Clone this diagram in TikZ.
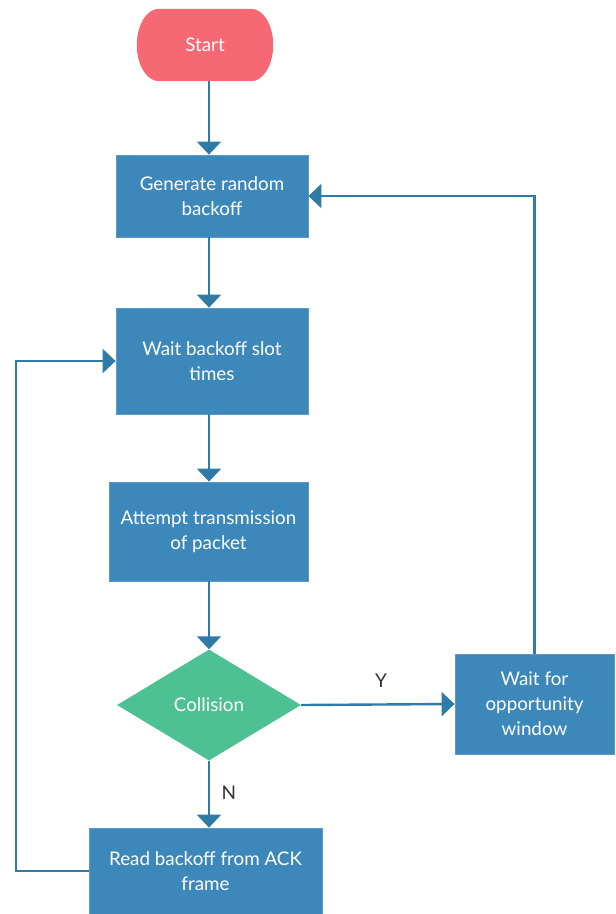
\documentclass[tikz,border=0pt]{standalone}
\usepackage{fontspec}
\setmainfont{Lato}
\usetikzlibrary{arrows.meta,shapes.geometric,backgrounds}
\definecolor{boxblue}{RGB}{61,136,186}
\definecolor{lineblue}{RGB}{47,123,168}
\definecolor{startred}{RGB}{245,104,116}
\definecolor{diagreen}{RGB}{77,193,148}
\definecolor{labelgray}{RGB}{51,51,51}
\tikzset{
  procbox/.style={rectangle, fill=boxblue, draw=boxblue!85!white, line width=0.8pt, text=white,
    align=center, inner sep=0pt, font=\fontsize{18.8pt}{25pt}\selectfont},
  starttext/.style={rectangle, text=white, inner sep=0pt,
    font=\fontsize{18.8pt}{25pt}\selectfont},
  decbox/.style={diamond, aspect=1.66, fill=diagreen, text=white, inner sep=0pt,
    font=\fontsize{18.8pt}{25pt}\selectfont},
  arr/.style={draw=lineblue, line width=2.4pt, -{Triangle[width=24pt,length=13pt]}},
  lbl/.style={text=labelgray, font=\fontsize{19pt}{22pt}\selectfont}
}
\begin{document}
\begin{tikzpicture}[x=1pt,y=-1pt]
\useasboundingbox (0,0) rectangle (616,914);
\node[starttext, minimum width=136pt, minimum height=72pt] (start) at (205,45) {Start};
\begin{pgfonlayer}{background}
\fill[startred] ([xshift=22pt]start.north west) -- ([xshift=-22pt]start.north east)
 .. controls ([xshift=-9.9pt]start.north east) and ([yshift=19.9pt]start.east) .. (start.east)
 .. controls ([yshift=-19.9pt]start.east) and ([xshift=-9.9pt]start.south east) .. ([xshift=-22pt]start.south east)
 -- ([xshift=22pt]start.south west)
 .. controls ([xshift=9.9pt]start.south west) and ([yshift=-19.9pt]start.west) .. (start.west)
 .. controls ([yshift=19.9pt]start.west) and ([xshift=9.9pt]start.north west) .. ([xshift=22pt]start.north west) -- cycle;
\end{pgfonlayer}
\node[procbox, minimum width=192pt, minimum height=82pt] (gen) at (212,196) {Generate random\\backoff};
\node[procbox, minimum width=192pt, minimum height=106pt] (wait) at (212,361) {Wait backoff slot\\times};
\node[procbox, minimum width=199pt, minimum height=99pt] (att) at (208.5,531.5) {Attempt transmission\\of packet};
\node[decbox, minimum width=184pt, minimum height=111pt] (col) at (209,705) {Collision};
\node[procbox, minimum width=159pt, minimum height=100pt] (opp) at (534.5,704) {Wait for\\opportunity\\window};
\node[procbox, minimum width=233pt, minimum height=86pt] (ack) at (205.5,871) {Read backoff from ACK\\frame};
\coordinate (spine) at (209,0);
\coordinate (leftx) at (16,0);
\draw[arr] (spine |- start.south) -- (spine |- gen.north);
\draw[arr] (spine |- gen.south) -- (spine |- wait.north);
\draw[arr] (spine |- wait.south) -- (spine |- att.north);
\draw[arr] (spine |- att.south) -- (col.north);
\draw[arr] (col.south) -- (spine |- ack.north);
\draw[arr] (col.east) -- (opp.west);
\draw[arr] (opp.north) |- (gen.east);
\draw[arr] (ack.west) -- (leftx |- ack.west) |- (wait.west);
\node[lbl] (ylbl) at (381,681) {Y};
\node[lbl] (nlbl) at (229,793) {N};
\end{tikzpicture}
\end{document}
